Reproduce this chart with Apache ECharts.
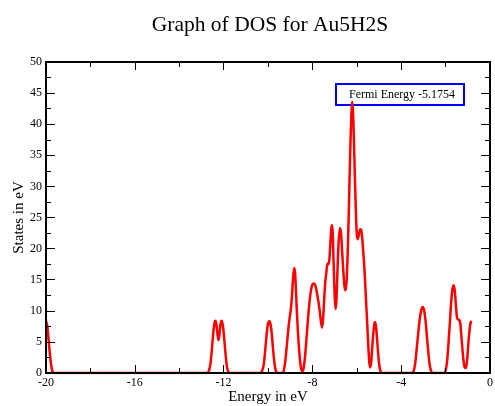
<!DOCTYPE html>
<html>
<head>
<meta charset="utf-8">
<script src="https://cdn.jsdelivr.net/npm/echarts@6/dist/echarts.min.js"></script>
<style>html,body{margin:0;padding:0;background:#fff}#c{width:495px;height:406px}</style>
</head>
<body>
<div id="c"></div>
<script>
const titleText = 'Graph of DOS for Au5H2S';
const xName = 'Energy in eV';
const yName = 'States in eV';
const legendText = 'Fermi Energy -5.1754';

const energy = [
-20.00,-19.95,-19.90,-19.85,-19.80,-19.75,-19.70,-19.62,
-12.75,-12.67,-12.60,-12.55,-12.50,-12.45,-12.40,-12.36,-12.31,-12.26,-12.23,-12.19,-12.15,-12.10,-12.05,-12.00,-11.95,-11.90,-11.85,-11.80,-11.72,
-10.35,-10.27,-10.20,-10.15,-10.10,-10.05,-10.00,-9.94,-9.89,-9.84,-9.79,-9.74,-9.69,-9.64,-9.56,
-9.36,-9.29,-9.22,-9.15,-9.08,-9.02,-8.97,-8.92,-8.87,-8.82,-8.78,-8.74,-8.70,-8.65,-8.60,-8.55,-8.50,-8.45,
-8.40,-8.35,-8.30,-8.25,-8.20,-8.15,-8.10,-8.05,-8.00,-7.93,-7.87,-7.80,-7.73,-7.67,-7.62,-7.57,
-7.52,-7.47,-7.42,-7.37,-7.32,-7.27,-7.23,-7.18,-7.13,-7.09,-7.05,-7.01,-6.96,
-6.92,-6.87,-6.82,-6.76,-6.71,-6.66,-6.60,-6.55,-6.50,
-6.45,-6.40,-6.35,-6.30,-6.25,-6.21,-6.17,-6.13,-6.09,-6.05,-6.01,-5.97,-5.92,-5.86,-5.81,-5.76,-5.71,-5.66,-5.61,-5.56,-5.51,-5.46,-5.41,
-5.36,-5.31,-5.26,-5.21,-5.18,-5.14,-5.09,-5.04,-4.99,-4.94,-4.86,
-3.52,-3.44,-3.38,-3.32,-3.25,-3.18,-3.11,-3.04,-2.97,-2.90,-2.84,-2.78,-2.72,-2.66,-2.58,
-2.08,-2.00,-1.93,-1.87,-1.81,-1.75,-1.69,-1.63,-1.58,-1.53,-1.48,-1.43,-1.38,-1.34,-1.29,-1.24,-1.19,-1.14,-1.09,
-1.04,-0.99,-0.94,-0.89,-0.84
];
const dos = [
8.4,7.7,6.0,4.0,2.2,0.9,0.2,0,
0,0.3,1.3,2.9,5.0,7.0,8.2,8.4,7.4,5.8,5.3,6.1,7.6,8.4,8.0,6.6,4.6,2.6,1.0,0.3,0,
0,0.3,1.2,2.7,4.7,6.6,7.9,8.3,7.9,6.6,4.6,2.6,1.1,0.3,0,
0,0.4,2.0,4.5,7.2,9.0,10.3,12.4,15.2,16.9,16.1,13.2,9.9,6.5,3.8,1.8,0.6,0.3,
0.7,2.0,4.0,6.3,8.6,10.7,12.4,13.6,14.2,14.4,14.1,13.0,11.5,10.0,8.4,7.3,
8.6,11.8,14.6,16.2,17.6,17.5,18.5,21.5,23.8,22.8,18.5,13.8,10.3,
11.5,16.5,21.0,23.3,22.5,19.5,16.0,13.8,13.3,
15.5,20.5,27.5,35.0,41.0,43.6,42.0,37.5,32.0,27.0,23.0,21.5,22.0,23.0,23.1,21.8,19.5,17.0,13.5,10.0,6.4,3.0,0.9,
1.5,3.8,6.3,7.9,8.2,7.6,5.6,3.2,1.4,0.4,0,
0,0.3,1.3,3.2,5.8,8.2,9.9,10.6,10.1,8.3,5.8,3.4,1.4,0.4,0,
0,0.4,2.0,4.8,8.0,11.3,13.5,14.1,13.0,10.5,8.8,8.6,8.5,8.0,6.0,3.8,1.9,0.9,0.8,
1.8,4.0,6.2,7.8,8.4
];

const serif = '"Liberation Serif","Times New Roman",serif';
const chart = echarts.init(document.getElementById('c'), null, {renderer: 'canvas'});

function xAx(pos, labels) {
  return {
    type: 'value', position: pos, min: -20, max: 0, interval: 4, z: 5,
    name: labels ? xName : '', nameLocation: 'middle', nameGap: 17, nameMoveOverlap: false,
    nameTextStyle: {fontFamily: serif, fontSize: 15, color: '#000'},
    axisLine: {show: true, onZero: false, lineStyle: {color: '#000', width: 2}},
    axisTick: {show: true, inside: true, length: 8, lineStyle: {color: '#000', width: 1}},
    minorTick: {show: true, splitNumber: 2, length: 5, lineStyle: {color: '#000', width: 1}},
    axisLabel: {show: labels, fontFamily: serif, fontSize: 12, color: '#000', margin: 4},
    splitLine: {show: false}
  };
}
function yAx(pos, labels) {
  return {
    type: 'value', position: pos, min: 0, max: 50, interval: 5, z: 5,
    name: labels ? yName : '', nameLocation: 'middle', nameGap: 19, nameRotate: 90, nameMoveOverlap: false,
    nameTextStyle: {fontFamily: serif, fontSize: 15, color: '#000'},
    axisLine: {show: true, onZero: false, lineStyle: {color: '#000', width: 2}},
    axisTick: {show: true, inside: true, length: 9, lineStyle: {color: '#000', width: 1}},
    minorTick: {show: true, splitNumber: 2, length: 5, lineStyle: {color: '#000', width: 1}},
    axisLabel: {show: labels, fontFamily: serif, fontSize: 12, color: '#000', margin: 4},
    splitLine: {show: false}
  };
}

chart.setOption({
  animation: false,
  backgroundColor: '#fff',
  title: {
    text: titleText, left: 265, top: 9, textAlign: 'center',
    textStyle: {fontFamily: serif, fontSize: 21.5, fontWeight: 'normal', color: '#000'}
  },
  grid: {left: 46, right: 5, top: 62, bottom: 33, containLabel: false, outerBoundsMode: 'none'},
  xAxis: [xAx('bottom', true), xAx('top', false)],
  yAxis: [yAx('left', true), yAx('right', false)],
  series: [{
    type: 'line', xAxisIndex: 0, yAxisIndex: 0,
    data: energy.map((e, i) => [e, dos[i]]),
    showSymbol: false, smooth: 0.3,
    lineStyle: {color: '#ff0000', width: 2.5},
    z: 2
  }],
  graphic: [{
    type: 'group', left: 335, top: 83, z: 100,
    children: [
      {type: 'rect', shape: {x: 0, y: 0, width: 128, height: 21},
       style: {fill: '#fff', stroke: '#0000ff', lineWidth: 2}},
      {type: 'text', x: 13, y: 10.5,
       style: {text: legendText, fontFamily: serif, fontSize: 12, fill: '#000', verticalAlign: 'middle', align: 'left'}}
    ]
  }]
});
</script>
</body>
</html>
